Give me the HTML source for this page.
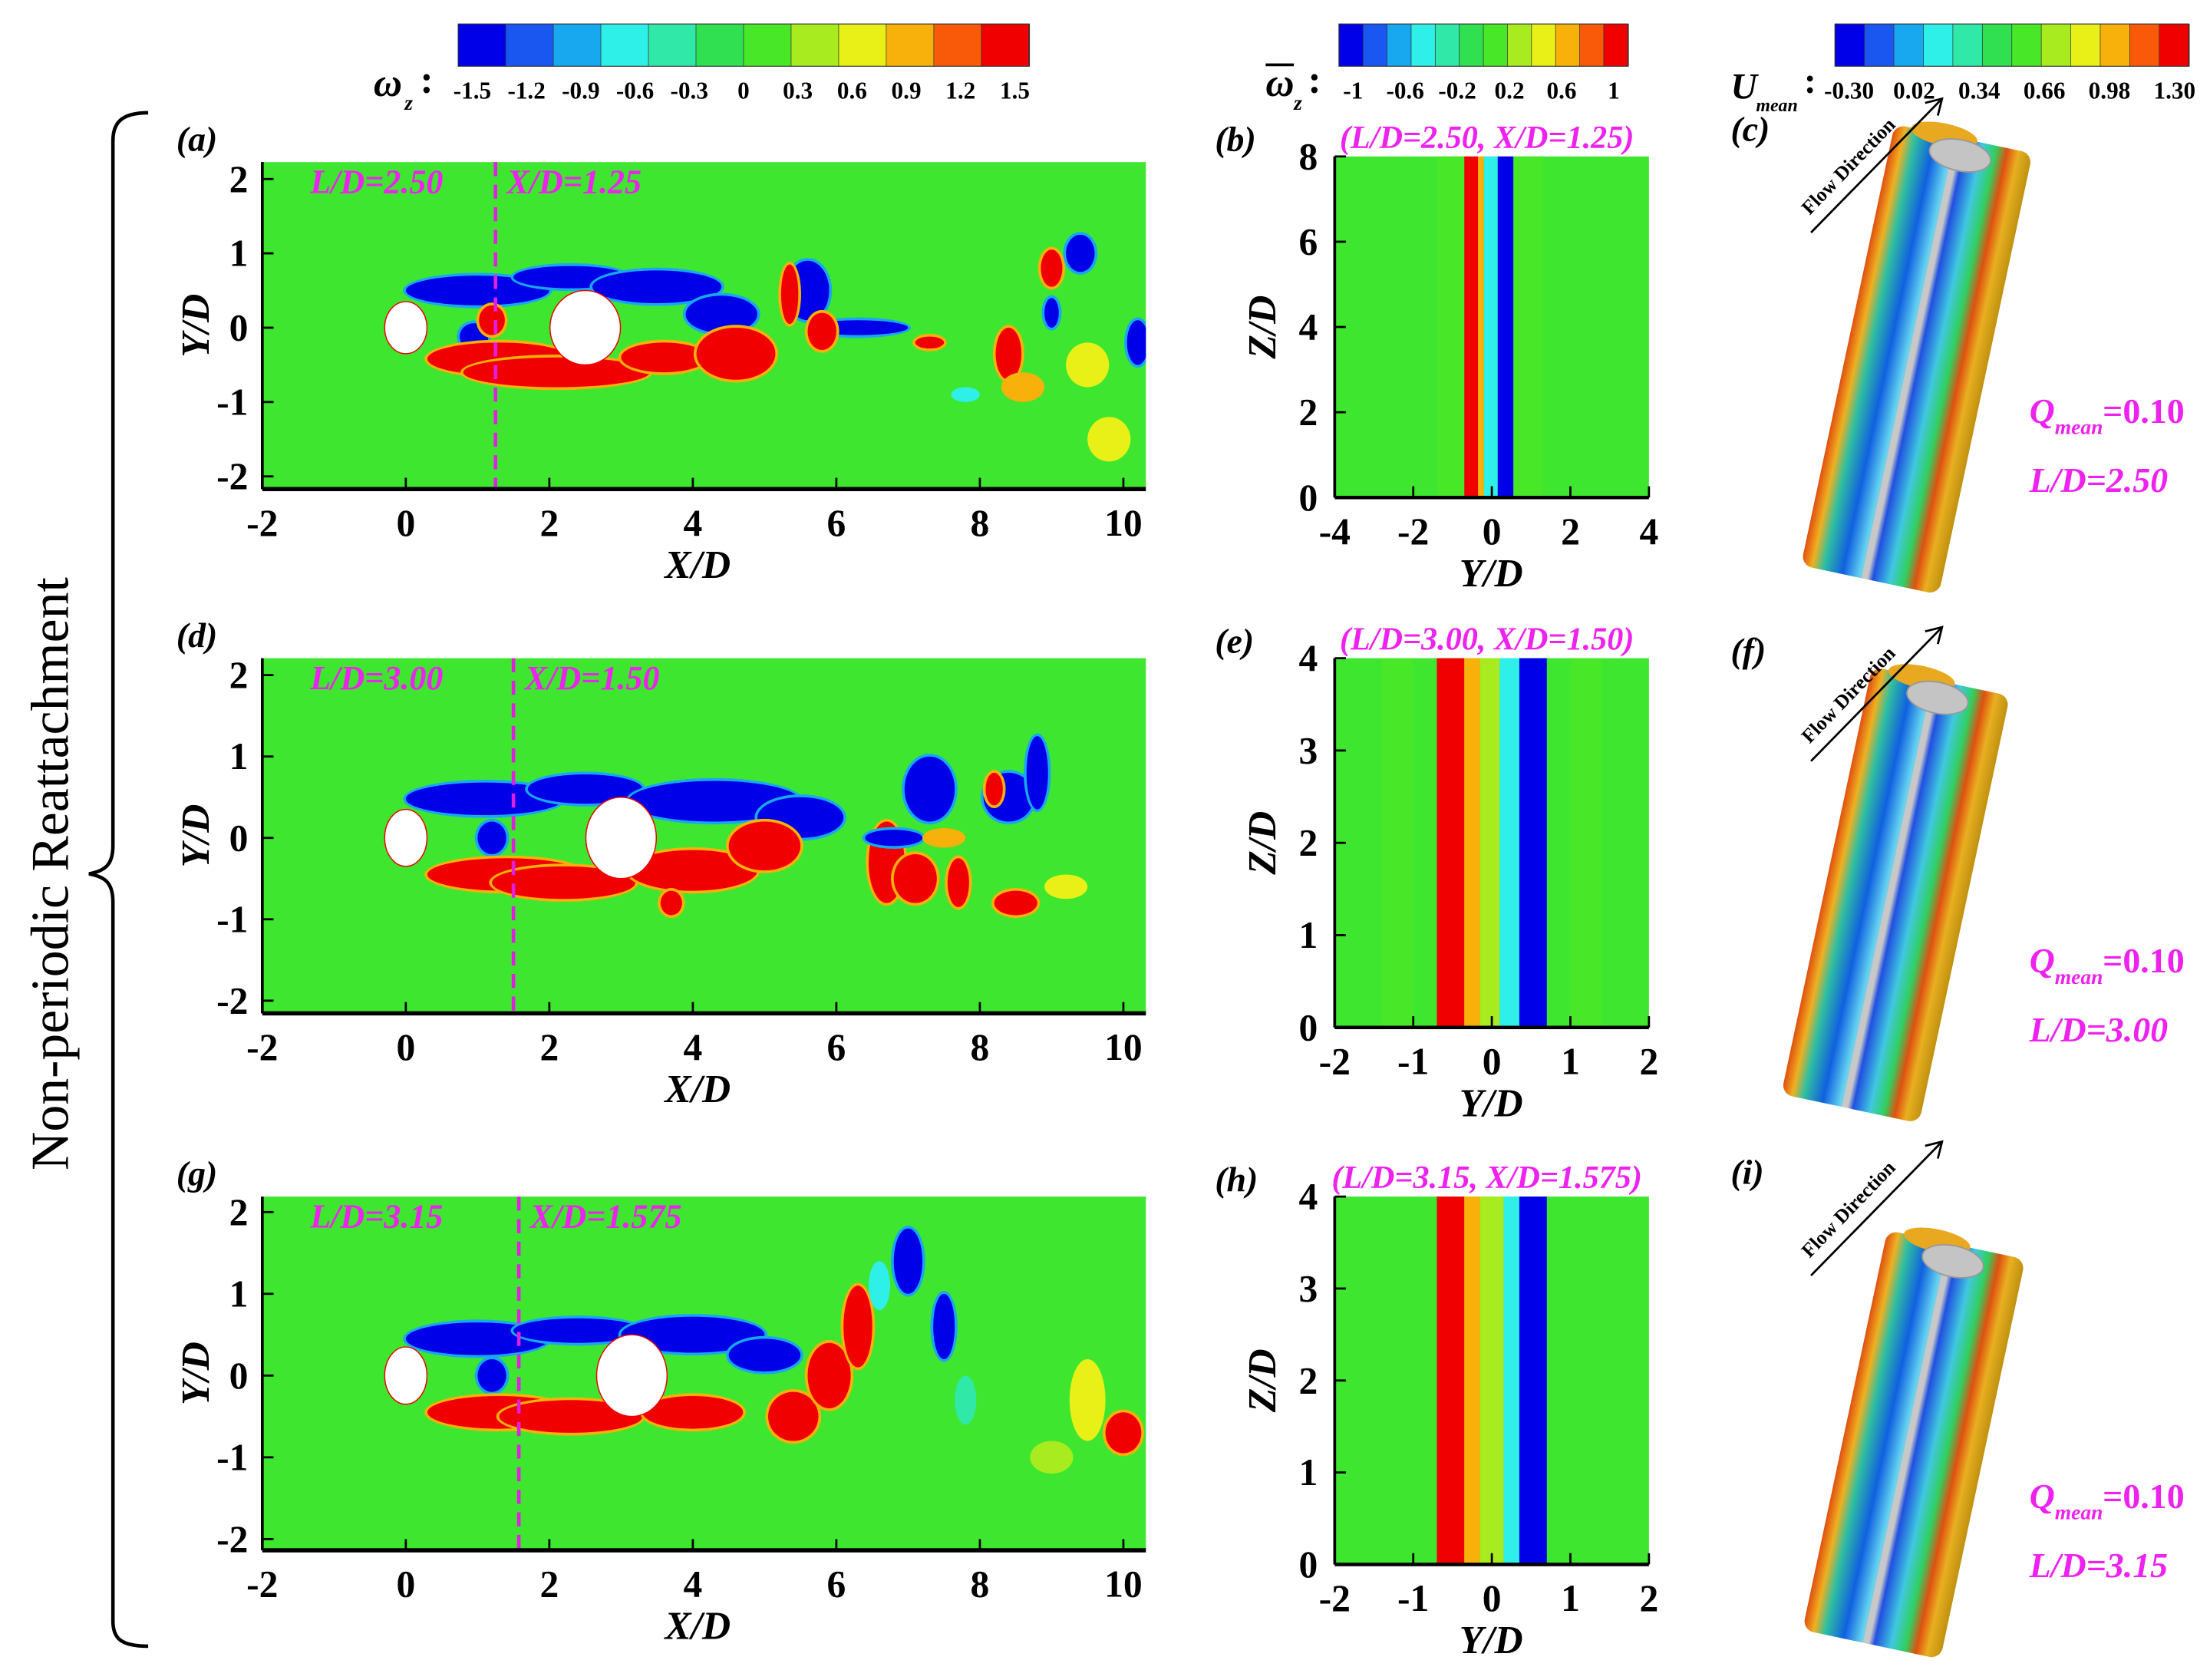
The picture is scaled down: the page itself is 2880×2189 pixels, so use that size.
<!DOCTYPE html>
<html><head><meta charset="utf-8"><style>
html,body{margin:0;padding:0;background:#fff;}
svg{display:block;}
text{font-family:"Liberation Serif",serif;font-weight:bold;}
</style></head>
<body>
<svg id="fig" width="2880" height="2189" viewBox="0 0 1568 1192" xmlns="http://www.w3.org/2000/svg">
<defs>
<linearGradient id="colA" x1="0" x2="1" y1="0" y2="0">
<stop offset="0" stop-color="#e05010"/><stop offset="0.08" stop-color="#f0b020"/><stop offset="0.16" stop-color="#30c0a0"/>
<stop offset="0.3" stop-color="#1060e0"/><stop offset="0.42" stop-color="#60d0f0"/><stop offset="0.48" stop-color="#c8c8c8"/>
<stop offset="0.52" stop-color="#2050e0"/><stop offset="0.64" stop-color="#40c8e0"/><stop offset="0.74" stop-color="#30d060"/>
<stop offset="0.82" stop-color="#e05010"/><stop offset="0.9" stop-color="#e8b020"/><stop offset="1" stop-color="#c09010"/>
</linearGradient>
</defs>
<g id="root"></g>
</svg>
<script>
// ---------- data ----------
const cmapColors = ['#0000e8','#1a56f0','#18a8f0','#2ef0e8','#30e8a8','#30e050','#48e828','#a8ec20','#e8f018','#f8b00a','#f85a0a','#f00000'];
const wzTicks = ['-1.5','-1.2','-0.9','-0.6','-0.3','0','0.3','0.6','0.9','1.2','1.5'];
const wzMeanTicks = ['-1','-0.6','-0.2','0.2','0.6','1'];
const umeanTicks = ['-0.30','0.02','0.34','0.66','0.98','1.30'];
const xTicks = [-2,0,2,4,6,8,10];
const yTicks = [-2,-1,0,1,2];
const ldValues = [2.50, 3.00, 3.15];
const xdCuts = [1.25, 1.50, 1.575];
const ldLabels = ['2.50','3.00','3.15'];
const xdLabels = ['1.25','1.50','1.575'];
// wake blobs [x, y, rx, ry, vorticity]
const wakeA = [[1.0,0.5,1.0,0.2,-1.5],[2.3,0.68,0.8,0.15,-1.5],[3.5,0.55,0.9,0.22,-1.5],[4.4,0.18,0.5,0.25,-1.5],[0.95,-0.12,0.2,0.18,-1.5],
[1.3,-0.42,1.0,0.22,1.5],[2.1,-0.6,1.3,0.2,1.5],[3.6,-0.4,0.6,0.2,1.5],[4.6,-0.35,0.55,0.35,1.5],[1.2,0.1,0.18,0.2,1.5],
[5.6,0.5,0.3,0.4,-1.5],[5.35,0.45,0.12,0.4,1.5],[6.3,0.0,0.7,0.1,-1.5],[5.8,-0.05,0.2,0.25,1.5],[8.4,-0.35,0.18,0.35,1.5],
[9.0,0.8,0.15,0.25,1.5],[9.4,1.0,0.2,0.25,-1.5],[9.0,0.2,0.1,0.2,-1.5],[8.6,-0.8,0.3,0.2,0.9],[9.5,-0.5,0.3,0.3,0.6],
[10.2,-0.2,0.15,0.3,-1.5],[7.8,-0.9,0.2,0.1,-0.6],[9.8,-1.5,0.3,0.3,0.6],[7.3,-0.2,0.2,0.08,1.5]];
const wakeD = [[1.1,0.48,1.1,0.2,-1.5],[2.5,0.6,0.8,0.18,-1.5],[4.3,0.45,1.2,0.25,-1.5],[5.5,0.25,0.6,0.25,-1.5],[1.2,0.0,0.2,0.2,-1.5],
[1.4,-0.45,1.1,0.2,1.5],[2.2,-0.55,1.0,0.2,1.5],[4.0,-0.4,0.9,0.25,1.5],[5.0,-0.1,0.5,0.3,1.5],[3.7,-0.8,0.15,0.15,1.5],
[6.7,-0.3,0.25,0.5,1.5],[7.1,-0.5,0.3,0.3,1.5],[6.8,0.0,0.4,0.1,-1.5],[7.3,0.6,0.35,0.4,-1.5],[8.4,0.5,0.35,0.3,-1.5],
[8.8,0.8,0.15,0.45,-1.5],[8.2,0.6,0.12,0.2,1.5],[7.7,-0.55,0.15,0.3,1.5],[8.5,-0.8,0.3,0.15,1.5],[7.5,0.0,0.3,0.12,0.9],[9.2,-0.6,0.3,0.15,0.6]];
const wakeG = [[1.0,0.45,1.0,0.2,-1.5],[2.4,0.55,0.9,0.15,-1.5],[4.0,0.5,1.0,0.22,-1.5],[5.0,0.25,0.5,0.2,-1.5],[1.2,0.0,0.2,0.2,-1.5],
[1.3,-0.45,1.0,0.2,1.5],[2.3,-0.5,1.0,0.2,1.5],[4.0,-0.45,0.7,0.2,1.5],[5.4,-0.5,0.35,0.3,1.5],[5.9,0.0,0.3,0.4,1.5],
[6.3,0.6,0.2,0.5,1.5],[7.0,1.4,0.2,0.4,-1.5],[7.5,0.6,0.15,0.4,-1.5],[6.6,1.1,0.15,0.3,-0.6],[7.8,-0.3,0.15,0.3,-0.3],
[9.5,-0.3,0.25,0.5,0.6],[10.0,-0.7,0.25,0.25,1.5],[9.0,-1.0,0.3,0.2,0.3]];
const wakes = [wakeA, wakeD, wakeG];
// spanwise bands [yFrom, yTo, value]
const bandsB = [[-1.4,-0.7,0.0],[-0.7,-0.35,1.5],[-0.35,-0.2,0.9],[-0.2,0.15,-0.6],[0.15,0.55,-1.5],[0.55,1.3,0.0]];
const bandsE = [[-1.4,-1.0,0.0],[-0.7,-0.35,1.5],[-0.35,-0.15,0.9],[-0.15,0.1,0.3],[0.1,0.35,-0.6],[0.35,0.7,-1.5],[1.0,1.4,0.0]];
const bandsH = [[-0.7,-0.35,1.5],[-0.35,-0.15,0.9],[-0.15,0.15,0.3],[0.15,0.35,-0.6],[0.35,0.7,-1.5]];

// ---------- helpers ----------
const NS='http://www.w3.org/2000/svg';
const root=document.getElementById('root');
function el(tag,attrs,parent){const e=document.createElementNS(NS,tag);for(const k in attrs)e.setAttribute(k,attrs[k]);(parent||root).appendChild(e);return e;}
function txt(x,y,s,size,extra,parent){const t=el('text',Object.assign({x:x,y:y,'font-size':size},extra||{}),parent);t.textContent=s;return t;}
function vcol(v){let i=Math.round((v+1.5)/3*11);return cmapColors[Math.max(0,Math.min(11,i))];}

// ---------- colorbars ----------
function colorbar(x0,x1,labels,name){
  const g=el('g',{});
  
  
  const w=(x1-x0)/cmapColors.length;
  cmapColors.forEach((c,i)=>{el('rect',{x:x0+i*w,y:17,width:w+0.5,height:30,fill:c,stroke:'#333','stroke-width':0.4},g);});
  el('rect',{x:x0,y:17,width:x1-x0,height:30,fill:'none',stroke:'#333','stroke-width':0.6},g);
  labels.forEach((l,i)=>{const x=x0+10+i*((x1-x0-20)/(labels.length-1));txt(x,70,l,17,{'text-anchor':'middle'},g);});
  return g;
}
colorbar(325,730,wzTicks,'vorticity-colorbar');
colorbar(950,1155,wzMeanTicks,'mean-vorticity-colorbar');
colorbar(1302,1553,umeanTicks,'umean-colorbar');
let t=txt(265,68,'ω',28,{'font-style':'italic'});
txt(287,78,'z',15,{'font-style':'italic'});txt(298,66,':',28);
t=txt(898,68,'ω',28,{'font-style':'italic'});
el('line',{x1:898,y1:46,x2:918,y2:46,stroke:'#000','stroke-width':2});
txt(918,78,'z',15,{'font-style':'italic'});txt(928,66,':',28);
t=txt(1228,70,'U',26,{'font-style':'italic'});
txt(1246,79,'mean',13,{'font-style':'italic'});txt(1280,66,':',26);

// ---------- bracket + group label ----------
const br=el('path',{d:'M105,80 C85,80 80,88 80,100 L80,600 C80,614 74,618 63,620 C74,622 80,626 80,640 L80,1150 C80,1162 85,1168 105,1168',fill:'none',stroke:'#000','stroke-width':2.5});


t=txt(0,0,'Non-periodic  Reattachment',38,{transform:'translate(48,620) rotate(-90)','text-anchor':'middle',style:'font-weight:normal'});



// ---------- wake panels ----------
const rows=[{top:115,bot:347,y2:127,ym2:338,letter:'(a)'},{top:467,bot:719,y2:479,ym2:710,letter:'(d)'},{top:849,bot:1100,y2:860,ym2:1092,letter:'(g)'}];
const PX0=186,PX1=813;
const xs=x=>186+(x+2)*50.92;
rows.forEach((r,ri)=>{
  const ky=(r.ym2-r.y2)/4, y0=r.y2+2*ky;
  const ys=y=>y0-y*ky;
  const g=el('g',{});
  
  
  const bg=el('rect',{x:PX0,y:r.top,width:PX1-PX0,height:r.bot-r.top,fill:'#3ee630'},g);
  
  
  const clip=el('clipPath',{id:'clip'+ri},g);el('rect',{x:PX0,y:r.top,width:PX1-PX0,height:r.bot-r.top},clip);
  const mg=el('g',{'clip-path':'url(#clip'+ri+')'},g);
  wakes[ri].forEach(b=>{
    if(Math.abs(b[4])>1.2){el('ellipse',{cx:xs(b[0]),cy:ys(b[1]),rx:b[2]*50.92+2,ry:b[3]*ky+2,fill:vcol(b[4]*0.6)},mg);}
    const e=el('ellipse',{cx:xs(b[0]),cy:ys(b[1]),rx:b[2]*50.92,ry:b[3]*ky,fill:vcol(b[4])},mg);
    
    
  });
  let c=el('ellipse',{cx:xs(0),cy:ys(0),rx:15,ry:0.35*ky,fill:'#fff',stroke:'#e00','stroke-width':0.8},g);
  
  
  c=el('ellipse',{cx:xs(ldValues[ri]),cy:ys(0),rx:25,ry:0.5*ky,fill:'#fff',stroke:'#e00','stroke-width':0.8},g);
  
  
  const dl=el('line',{x1:xs(xdCuts[ri]),x2:xs(xdCuts[ri]),y1:r.top,y2:r.bot,stroke:'#e020e0','stroke-width':2.5,'stroke-dasharray':'10,6'},g);
  
  
  let l=txt(220,r.top+22,'L/D='+ldLabels[ri],24,{fill:'#ee22ee','font-style':'italic'},g);
  
  
  l=txt(xs(xdCuts[ri])+8,r.top+22,'X/D='+xdLabels[ri],24,{fill:'#ee22ee','font-style':'italic'},g);
  
  
  // axes
  el('line',{x1:PX0,x2:PX0,y1:r.top,y2:r.bot,stroke:'#000','stroke-width':2},g);
  el('line',{x1:PX0,x2:PX1,y1:r.bot,y2:r.bot,stroke:'#000','stroke-width':3},g);
  xTicks.forEach(v=>{el('line',{x1:xs(v),x2:xs(v),y1:r.bot,y2:r.bot-8,stroke:'#000','stroke-width':1.5},g);
    const tl=txt(xs(v),r.bot+33,String(v),27,{'text-anchor':'middle'},g);
    
    });
  yTicks.forEach(v=>{el('line',{x1:PX0,x2:PX0+8,y1:ys(v),y2:ys(v),stroke:'#000','stroke-width':1.5},g);
    const tl=txt(PX0-10,ys(v)+9,String(v),27,{'text-anchor':'end'},g);
    
    });
  let a=txt(495,r.bot+63,'X/D',28,{'text-anchor':'middle','font-style':'italic'},g);
  
  a=txt(0,0,'Y/D',28,{'text-anchor':'middle','font-style':'italic',transform:'translate(148,'+((r.top+r.bot)/2)+') rotate(-90)'},g);
  
  a=txt(125,r.top-8,r.letter,25,{'font-style':'italic'},g);
  
});

// ---------- spanwise panels ----------
const span=[{top:111,bot:353,ymax:4,zmax:8,zt:[0,2,4,6,8],yt:[-4,-2,0,2,4],bands:bandsB,letter:'(b)',cap:'(L/D=2.50, X/D=1.25)'},
{top:467,bot:729,ymax:2,zmax:4,zt:[0,1,2,3,4],yt:[-2,-1,0,1,2],bands:bandsE,letter:'(e)',cap:'(L/D=3.00, X/D=1.50)'},
{top:849,bot:1110,ymax:2,zmax:4,zt:[0,1,2,3,4],yt:[-2,-1,0,1,2],bands:bandsH,letter:'(h)',cap:'(L/D=3.15, X/D=1.575)'}];
const SX0=947,SX1=1170;
span.forEach((p,pi)=>{
  const sx=y=>SX0+(y+p.ymax)/(2*p.ymax)*(SX1-SX0);
  const sz=z=>p.bot-z/p.zmax*(p.bot-p.top);
  const g=el('g',{});
  
  
  el('rect',{x:SX0,y:p.top,width:SX1-SX0,height:p.bot-p.top,fill:'#3ee630'},g);
  p.bands.forEach(b=>{
    const r=el('rect',{x:sx(b[0]),y:p.top,width:sx(b[1])-sx(b[0]),height:p.bot-p.top,fill:vcol(b[2])},g);
    
    
  });
  el('line',{x1:SX0,x2:SX0,y1:p.top,y2:p.bot,stroke:'#000','stroke-width':2},g);
  el('line',{x1:SX0,x2:SX1,y1:p.bot,y2:p.bot,stroke:'#000','stroke-width':2.5},g);
  p.yt.forEach(v=>{el('line',{x1:sx(v),x2:sx(v),y1:p.bot,y2:p.bot-8,stroke:'#000','stroke-width':1.5},g);
    const tl=txt(sx(v),p.bot+33,String(v),27,{'text-anchor':'middle'},g);
    });
  p.zt.forEach(v=>{el('line',{x1:SX0,x2:SX0+8,y1:sz(v),y2:sz(v),stroke:'#000','stroke-width':1.5},g);
    const tl=txt(SX0-12,sz(v)+9,String(v),27,{'text-anchor':'end'},g);
    });
  let a=txt(1058,p.bot+63,'Y/D',28,{'text-anchor':'middle','font-style':'italic'},g);
  
  a=txt(0,0,'Z/D',28,{'text-anchor':'middle','font-style':'italic',transform:'translate(905,'+((p.top+p.bot)/2)+') rotate(-90)'},g);
  
  a=txt(862,p.top-4,p.letter,25,{'font-style':'italic'},g);
  
  a=txt(1055,p.top-6,p.cap,23,{'text-anchor':'middle',fill:'#ee22ee','font-style':'italic'},g);
  
});

// ---------- 3D iso-surface panels ----------
const iso=[{cx:1360,cy:255,h:320,letter:'(c)',ly:100,q:300,ld:'2.50',arrowY:165},
{cx:1345,cy:635,h:310,letter:'(f)',ly:470,q:690,ld:'3.00',arrowY:540},
{cx:1358,cy:1025,h:290,letter:'(i)',ly:840,q:1070,ld:'3.15',arrowY:905}];
iso.forEach((p,pi)=>{
  const g=el('g',{});
  
  
  const body=el('g',{transform:'translate('+p.cx+','+p.cy+') rotate(12)'},g);
  el('rect',{x:-50,y:-p.h/2,width:100,height:p.h,rx:8,fill:'url(#colA)'},body);
  el('rect',{x:-6,y:-p.h/2,width:4,height:p.h,fill:'#c8c8c8'},body);
  el('ellipse',{cx:-14,cy:-p.h/2,rx:24,ry:8,fill:'#e8a820'},body);
  el('ellipse',{cx:0,cy:-p.h/2+12,rx:22,ry:11,fill:'#c4c4c4',stroke:'#999'},body);
  
  
  const ar=el('line',{x1:1285,y1:p.arrowY,x2:1378,y2:p.arrowY-95,stroke:'#000','stroke-width':1.5},g);
  
  el('path',{d:'M'+(1378-12)+','+(p.arrowY-95+3)+' L1378,'+(p.arrowY-95)+' L'+(1378-3)+','+(p.arrowY-95+12),fill:'none',stroke:'#000','stroke-width':1.5},g);
  let a=txt(0,0,'Flow Direction',14,{transform:'translate(1284,'+(p.arrowY-12)+') rotate(-46)'},g);
  
  a=txt(1228,p.ly,p.letter,25,{'font-style':'italic'},g);
  
  a=txt(1440,p.q,'Q',25,{fill:'#ee22ee','font-style':'italic'},g);
  
  txt(1458,p.q+8,'mean',15,{fill:'#ee22ee','font-style':'italic'},g);
  txt(1492,p.q,'=0.10',25,{fill:'#ee22ee'},g);
  a=txt(1440,p.q+49,'L/D='+p.ld,25,{fill:'#ee22ee','font-style':'italic'},g);
  
});
</script>
</body></html>
